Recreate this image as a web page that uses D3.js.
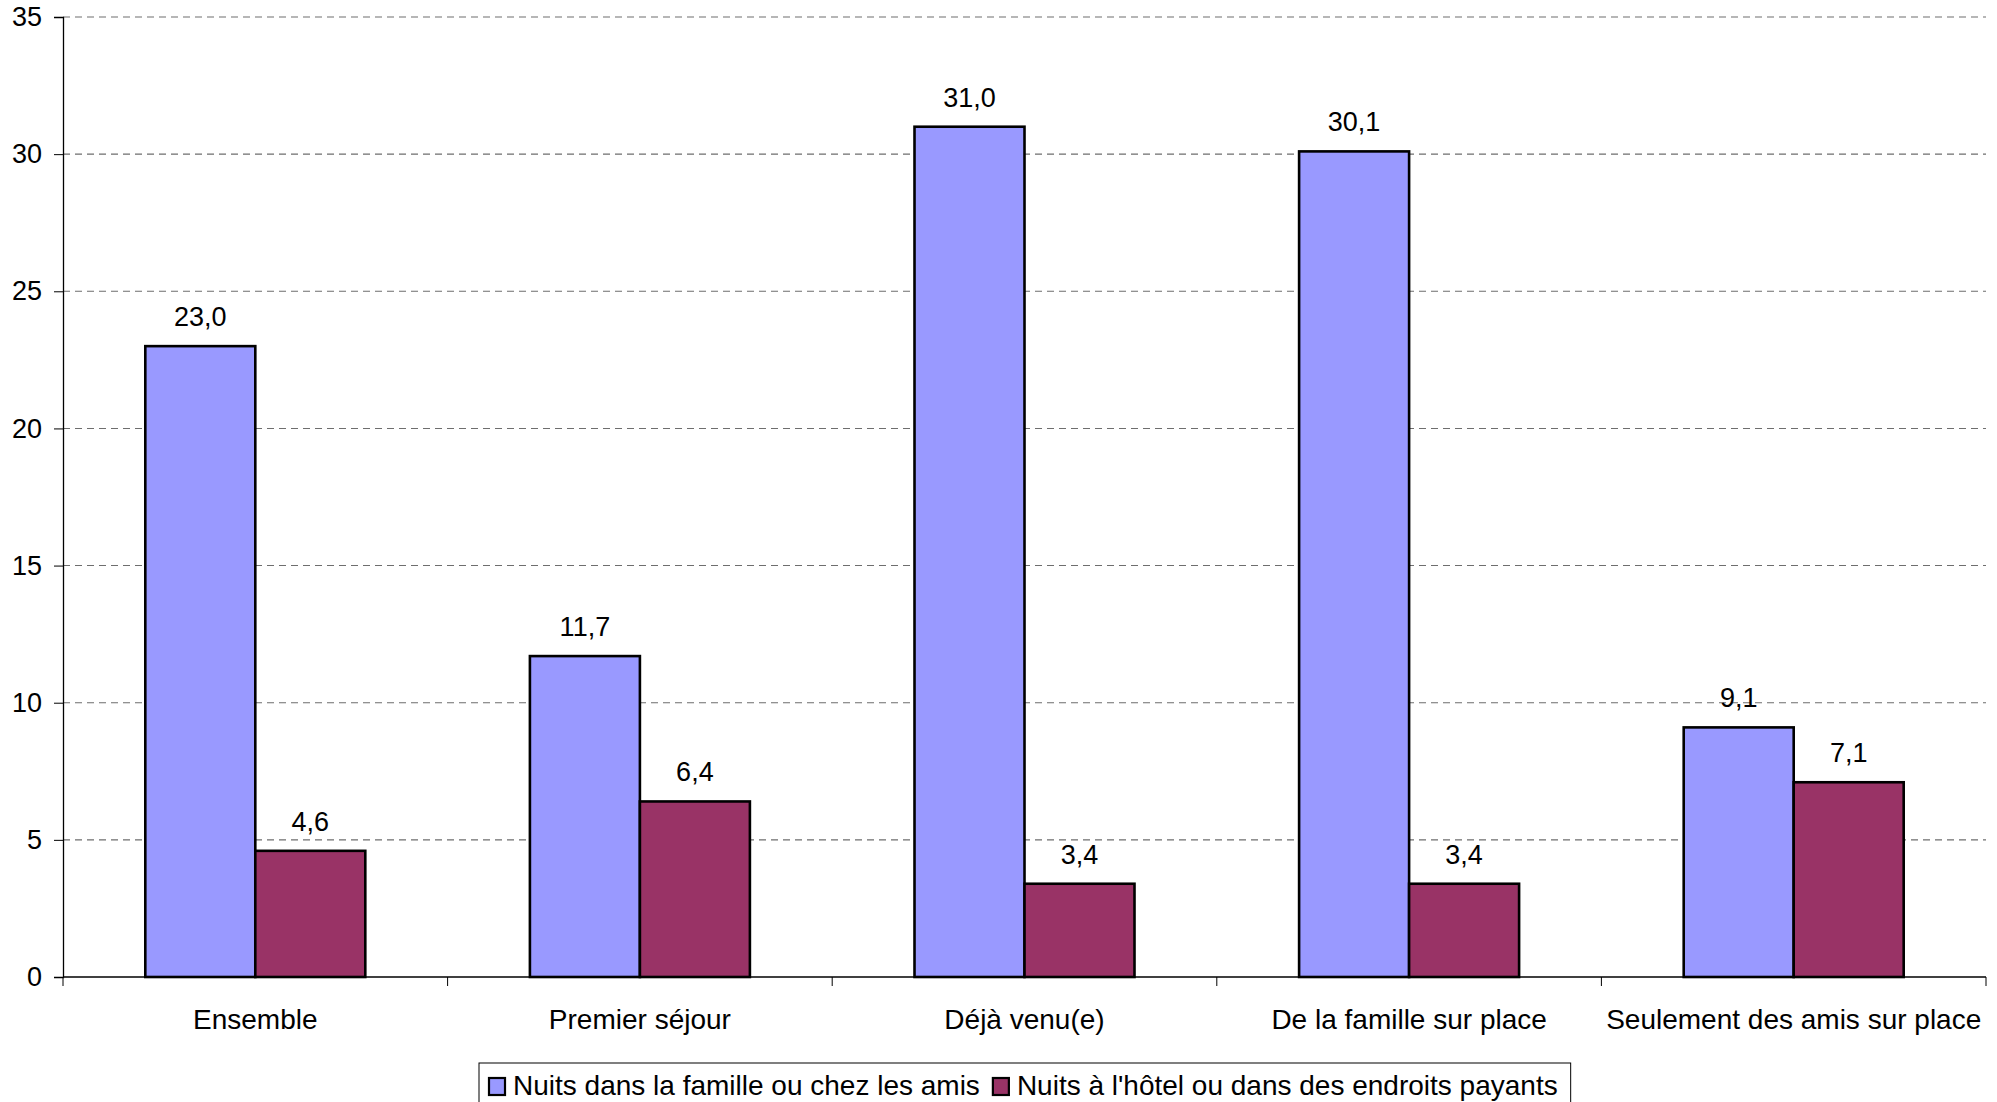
<!DOCTYPE html>
<html>
<head>
<meta charset="utf-8">
<script src="https://cdn.jsdelivr.net/npm/d3@7"></script>
<style>
  html, body { margin: 0; padding: 0; background: #fff; }
  svg { display: block; font-family: "Liberation Sans", Arial, sans-serif; }
</style>
</head>
<body>
<svg id="chart" width="1997" height="1102"></svg>
<script>
// Durée moyenne des séjours (nuits) selon le profil du visiteur
const categories = ["Ensemble", "Premier séjour", "Déjà venu(e)", "De la famille sur place", "Seulement des amis sur place"];
const seriesNames = ["Nuits dans la famille ou chez les amis", "Nuits à l'hôtel ou dans des endroits payants"];
const familleValues = [23.0, 11.7, 31.0, 30.1, 9.1];
const hotelValues = [4.6, 6.4, 3.4, 3.4, 7.1];
const yTicks = [0, 5, 10, 15, 20, 25, 30, 35];
const colors = ["#9999FF", "#993366"];

const series = [familleValues, hotelValues];

const svg = d3.select("#chart");
const margin = { left: 63, right: 11, top: 17, bottom: 125 };
const W = 1997, H = 1102;
const x0 = margin.left, x1 = W - margin.right;
const yTop = margin.top, yBot = H - margin.bottom;

const x = d3.scaleBand().domain(categories).range([x0, x1]).padding(0);
const groupWidth = x.bandwidth() * 0.572;
const xs = d3.scaleBand().domain(d3.range(series.length)).range([0, groupWidth]).padding(0);
const y = d3.scaleLinear().domain([0, 35]).range([yBot, yTop]);

const fmt = v => d3.format(".1f")(v).replace(".", ",");

// Horizontal gridlines
svg.append("g")
  .selectAll("line")
  .data(yTicks.filter(t => t > 0))
  .join("line")
  .attr("x1", x0).attr("x2", x1)
  .attr("y1", d => y(d)).attr("y2", d => y(d))
  .attr("stroke", "#6e6e6e")
  .attr("stroke-width", 1.1)
  .attr("stroke-dasharray", "7,5");

// Y axis
const yAxis = svg.append("g")
  .attr("transform", `translate(${x0},0)`)
  .call(d3.axisLeft(y).tickValues(yTicks).tickSize(9).tickPadding(12).tickFormat(d3.format("d")));
yAxis.select(".domain").attr("stroke", "#000").attr("stroke-width", 1.3);
yAxis.selectAll(".tick line").attr("stroke", "#000");
yAxis.selectAll("text").attr("font-size", 27).attr("fill", "#000")
  .attr("font-family", '"Liberation Sans", Arial, sans-serif');

// Bars
const groups = svg.append("g")
  .selectAll("g")
  .data(categories)
  .join("g")
  .attr("transform", d => `translate(${x(d) + (x.bandwidth() - groupWidth) / 2},0)`);

groups.selectAll("rect")
  .data((d, i) => series.map((s, k) => ({ k, v: s[i] })))
  .join("rect")
  .attr("x", d => xs(d.k))
  .attr("width", xs.bandwidth())
  .attr("y", d => y(d.v))
  .attr("height", d => y(0) - y(d.v))
  .attr("fill", d => colors[d.k])
  .attr("stroke", "#000")
  .attr("stroke-width", 2.6);

groups.selectAll("text")
  .data((d, i) => series.map((s, k) => ({ k, v: s[i] })))
  .join("text")
  .attr("x", d => xs(d.k) + xs.bandwidth() / 2)
  .attr("y", d => y(d.v) - 20)
  .attr("text-anchor", "middle")
  .attr("font-size", 27)
  .attr("fill", "#000")
  .text(d => fmt(d.v));

// X axis
const xAxis = svg.append("g")
  .attr("transform", `translate(0,${yBot})`)
  .call(d3.axisBottom(x).tickSize(0).tickPadding(32));
xAxis.select(".domain").remove();
xAxis.selectAll("text").attr("font-size", 28).attr("fill", "#000")
  .attr("font-family", '"Liberation Sans", Arial, sans-serif');
svg.append("line")
  .attr("x1", x0).attr("x2", x1).attr("y1", yBot).attr("y2", yBot)
  .attr("stroke", "#000").attr("stroke-width", 1.6);
// Category boundary ticks
svg.append("g")
  .selectAll("line")
  .data(categories.map(c => x(c)).concat([x1]))
  .join("line")
  .attr("x1", d => d).attr("x2", d => d)
  .attr("y1", yBot).attr("y2", yBot + 9)
  .attr("stroke", "#000").attr("stroke-width", 1);

// Legend
const legend = svg.append("g");
const legendItems = legend.selectAll("g")
  .data(seriesNames)
  .join("g");
legendItems.append("rect")
  .attr("width", 16).attr("height", 17)
  .attr("fill", (d, i) => colors[i])
  .attr("stroke", "#000").attr("stroke-width", 2.2);
legendItems.append("text")
  .attr("x", 24).attr("y", 17)
  .attr("font-size", 28)
  .attr("fill", "#000")
  .text(d => d);

let cursor = 489;
legendItems.each(function () {
  const g = d3.select(this);
  const w = g.select("text").node().getComputedTextLength();
  g.attr("transform", `translate(${cursor},1078)`);
  cursor += 24 + w + 13;
});
legend.insert("rect", ":first-child")
  .attr("x", 479).attr("y", 1063)
  .attr("width", cursor - 479).attr("height", 60)
  .attr("fill", "#fff")
  .attr("stroke", "#000").attr("stroke-width", 1);
</script>
</body>
</html>
